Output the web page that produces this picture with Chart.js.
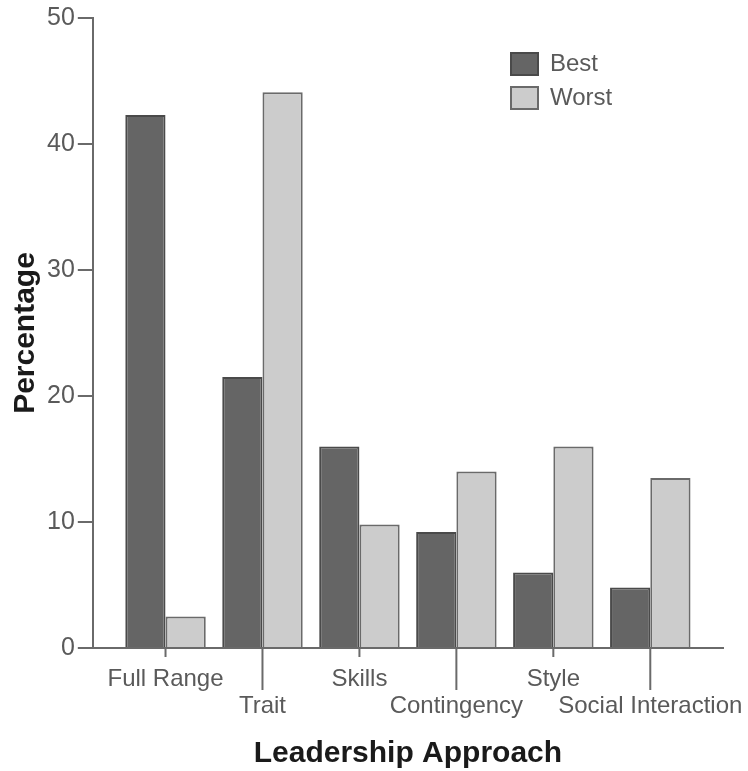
<!DOCTYPE html>
<html>
<head>
<meta charset="utf-8">
<script src="https://cdn.jsdelivr.net/npm/chart.js@4"></script>
<style>
  body { margin: 0; background: #fff; }
  #wrap { width: 748px; height: 771px; }
</style>
</head>
<body>
<div id="wrap"><canvas id="chart" width="748" height="771"></canvas></div>
<script>
const categories = ['Full Range', 'Trait', 'Skills', 'Contingency', 'Style', 'Social Interaction']
const bestValues = [42.3, 21.5, 16, 9.2, 6, 4.8]
const worstValues = [2.5, 44.1, 9.8, 14, 16, 13.5]
const yTicks = [0, 10, 20, 30, 40, 50]

const font = 'Liberation Sans, Arial, sans-serif'
const axisColor = '#6a6a6a'
const textColor = '#5a5a5a'

// long tick marks under every second category, short ones under the rest
const tickMarks = {
  id: 'tickMarks',
  afterLayout(chart) {
    // put the legend in the upper right of the plot
    const lg = chart.legend
    const w = lg.width, h = lg.height
    lg.left = 501
    lg.top = 42
    lg.right = lg.left + w
    lg.bottom = lg.top + h
  },
  afterDraw(chart) {
    const ctx = chart.ctx
    const x = chart.scales.x
    const bottom = chart.chartArea.bottom
    ctx.save()
    ctx.strokeStyle = axisColor
    ctx.lineWidth = 2
    categories.forEach((c, i) => {
      const px = x.getPixelForValue(i)
      ctx.beginPath()
      ctx.moveTo(px, bottom)
      ctx.lineTo(px, bottom + (i % 2 ? 42 : 9))
      ctx.stroke()
    })
    ctx.restore()
  }
}

new Chart(document.getElementById('chart'), {
  type: 'bar',
  data: {
    datasets: [
      {
        label: 'Best',
        data: categories.map((c, i) => ({ x: i, y: bestValues[i] })),
        backgroundColor: '#656565',
        borderColor: '#4a4a4a',
        borderWidth: 2,
      },
      {
        label: 'Worst',
        data: categories.map((c, i) => ({ x: i, y: worstValues[i] })),
        backgroundColor: '#cccccc',
        borderColor: '#6a6a6a',
        borderWidth: 2,
      },
    ],
  },
  options: {
    responsive: false,
    animation: false,
    devicePixelRatio: 1,
    categoryPercentage: 0.83,
    barPercentage: 1,
    layout: { padding: { top: 6, right: 25, left: 0, bottom: 0 } },
    plugins: {
      tooltip: { enabled: false },
      legend: {
        position: 'chartArea',
        align: 'start',
        labels: {
          boxWidth: 27,
          boxHeight: 22,
          padding: 10,
          color: textColor,
          font: { family: font, size: 24 },
        },
      },
    },
    scales: {
      x: {
        type: 'linear',
        offset: false,
        min: -0.75,
        max: 5.75,
        afterBuildTicks(scale) {
          scale.ticks = categories.map((c, i) => ({ value: i }))
        },
        afterFit(scale) {
          // fixed axis band, last label may run into the right margin
          scale.height = 123
          scale.paddingRight = 0
        },
        grid: { display: false },
        border: { display: true, color: axisColor, width: 2 },
        ticks: {
          autoSkip: false,
          maxRotation: 0,
          padding: 10,
          color: textColor,
          font: { family: font, size: 24, lineHeight: 1.125 },
          callback: (value) => (value % 2 ? ['', categories[value]] : categories[value]),
        },
        title: {
          display: true,
          text: 'Leadership Approach',
          color: '#1a1a1a',
          font: { family: font, size: 30, weight: 'bold', lineHeight: 1 },
          padding: { top: 0, bottom: 2 },
        },
      },
      y: {
        min: 0,
        max: 50,
        afterBuildTicks(scale) {
          scale.ticks = yTicks.map((v) => ({ value: v }))
        },
        grid: { drawOnChartArea: false, tickLength: 15, color: axisColor, lineWidth: 2 },
        border: { color: axisColor, width: 2 },
        ticks: {
          padding: 3,
          color: textColor,
          font: { family: font, size: 25 },
        },
        title: {
          display: true,
          text: 'Percentage',
          color: '#1a1a1a',
          font: { family: font, size: 30, weight: 'bold' },
          padding: { top: 8, bottom: 0 },
        },
      },
    },
  },
  plugins: [tickMarks],
})
</script>
</body>
</html>
